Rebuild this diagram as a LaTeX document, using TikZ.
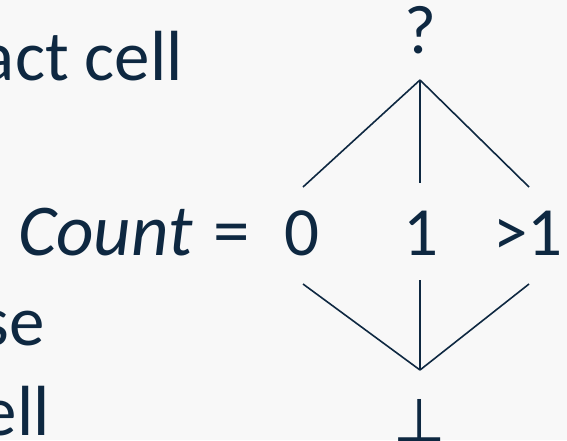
\documentclass[tikz,border=0pt]{standalone}
\usepackage{fontspec}
\setmainfont{Carlito}
\newfontfamily\symfont{DejaVu Sans}
\definecolor{ink}{HTML}{0E2841}
\definecolor{bg}{HTML}{F8F8F8}
\begin{document}
\begin{tikzpicture}[x=1pt,y=-1pt,
  txt/.style={inner sep=0pt,text=ink,font=\fontsize{71}{84}\selectfont},
  lbl/.style={inner sep=0pt,text=ink,font=\fontsize{69}{80}\selectfont},
  edge/.style={draw=ink,line width=1.6pt}]
\fill[bg] (0,0) rectangle (567,440);
\useasboundingbox (0,0) rectangle (567,440);
\clip (0,0) rectangle (567,440);
% left text
\node[txt,anchor=base east] (l1) at (183,80) {act cell};
\node[txt,anchor=base west,font=\fontsize{73}{84}\itshape] (cnt) at (18,255) {Count};
\node[txt,anchor=base west,font=\fontsize{73}{84}\selectfont] (eq) at (213,255) {=};
\node[txt,anchor=base east] (l3) at (45,345) {se};
\node[txt,anchor=base east] (l4) at (50,435) {ell};
% lattice
\node[lbl,anchor=base] (q) at (420,53) {?};
\node[lbl,anchor=base] (n0) at (302,255) {0};
\node[lbl,anchor=base] (n1) at (421,255) {1};
\node[lbl,anchor=base] (n2) at (528,255) {>1};
\node[inner sep=0pt,text=ink,anchor=base,font=\symfont\fontsize{60}{64}\selectfont] (bot) at (420,441) {⊥};
\coordinate (top) at (420,80);
\coordinate (t0) at (303,187);
\coordinate (t1) at (420,183);
\coordinate (t2) at (529,187);
\coordinate (b0) at (303,284);
\coordinate (b1) at (420,280);
\coordinate (b2) at (529,284);
\coordinate (btm) at (420,370);
\draw[edge] (top) -- (t0);
\draw[edge] (top) -- (t1);
\draw[edge] (top) -- (t2);
\draw[edge] (b0) -- (btm);
\draw[edge] (b1) -- (btm);
\draw[edge] (b2) -- (btm);
\end{tikzpicture}
\end{document}
